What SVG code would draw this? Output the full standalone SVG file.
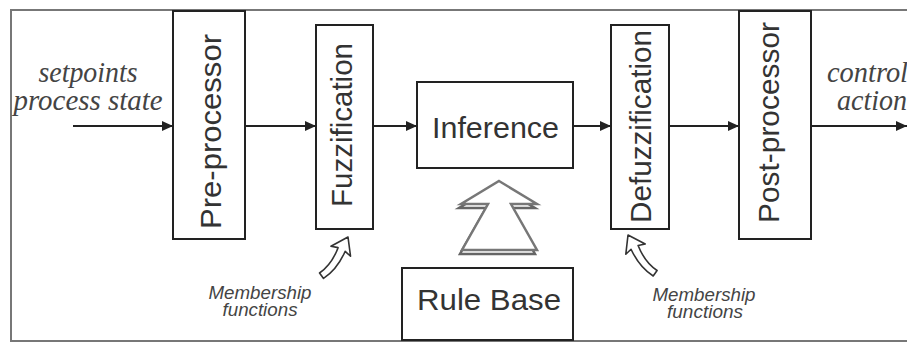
<svg xmlns="http://www.w3.org/2000/svg" width="907" height="343" viewBox="0 0 907 343">
<style>
.box{fill:#fff;stroke:#222;stroke-width:2}
.lbl{font-family:"Liberation Sans",Arial,sans-serif;font-size:30px;fill:#333}
.io{font-family:"Liberation Serif","Times New Roman",serif;font-style:italic;font-size:30px;fill:#444}
.mf{font-family:"Liberation Sans",Arial,sans-serif;font-style:italic;font-size:18px;fill:#444}
.conn{stroke:#222;stroke-width:2;fill:none}
.hollow{fill:#fff;stroke:#333;stroke-width:1.6;stroke-linejoin:round}
</style>
<defs>
<marker id="ah" markerWidth="12" markerHeight="10" refX="11" refY="5" orient="auto" markerUnits="userSpaceOnUse">
<path d="M0,0 L11,5 L0,10 Z" fill="#222"/>
</marker>
<path id="harrow" d="M0,0 L11,16 L4,14 Q5,34 -3,48 L-9,45 Q-2,32 -4,14 L-11,16 Z"/>
</defs>
<rect x="0" y="0" width="907" height="343" fill="#fff"/>
<rect x="11" y="10" width="920" height="331" fill="none" stroke="#777" stroke-width="2"/>

<g id="connectors">
<line class="conn" x1="73" y1="126" x2="173" y2="126" marker-end="url(#ah)"/>
<line class="conn" x1="245" y1="126" x2="316" y2="126" marker-end="url(#ah)"/>
<line class="conn" x1="373" y1="126" x2="417" y2="126" marker-end="url(#ah)"/>
<line class="conn" x1="573" y1="126" x2="611" y2="126" marker-end="url(#ah)"/>
<line class="conn" x1="669" y1="126" x2="739" y2="126" marker-end="url(#ah)"/>
<line class="conn" x1="811" y1="126" x2="907" y2="126" marker-end="url(#ah)"/>
<use href="#harrow" class="hollow" transform="translate(348,237) rotate(27)"/>
<use href="#harrow" class="hollow" transform="translate(628,235) rotate(-28) scale(-1,1)"/>
<g id="rule-arrow">
<polygon points="497,185 535,208 509,208 535,254 460,254 486,208 459,208" fill="none" stroke="#666" stroke-width="2.5" stroke-linejoin="miter"/>
<polygon points="499,181 537,204 511,204 537,250 462,250 488,204 461,204" fill="#fff" stroke="#777" stroke-width="2.5" stroke-linejoin="miter"/>
</g>
</g>

<g id="input-label">
<text class="io" x="88" y="82" text-anchor="middle" textLength="99" lengthAdjust="spacingAndGlyphs">setpoints</text>
<text class="io" x="88" y="110" text-anchor="middle" textLength="149" lengthAdjust="spacingAndGlyphs">process state</text>
</g>

<g id="pre-processor">
<rect class="box" x="173" y="11" width="72" height="228"/>
<text class="lbl" transform="translate(221,229) rotate(-90)" textLength="195" lengthAdjust="spacingAndGlyphs">Pre-processor</text>
</g>

<g id="fuzzification">
<rect class="box" x="316" y="25" width="57" height="204"/>
<text class="lbl" transform="translate(352,207) rotate(-90)" textLength="164" lengthAdjust="spacingAndGlyphs">Fuzzification</text>
</g>

<g id="inference">
<rect class="box" x="417" y="82" width="156" height="86"/>
<text class="lbl" x="432" y="138" textLength="127" lengthAdjust="spacingAndGlyphs">Inference</text>
</g>

<g id="rule-base">
<rect class="box" x="402" y="268" width="171" height="72"/>
<text class="lbl" x="417" y="310" textLength="144" lengthAdjust="spacingAndGlyphs">Rule Base</text>
</g>

<g id="defuzzification">
<rect class="box" x="611" y="25" width="58" height="204"/>
<text class="lbl" transform="translate(651,223) rotate(-90)" textLength="193" lengthAdjust="spacingAndGlyphs">Defuzzification</text>
</g>

<g id="post-processor">
<rect class="box" x="739" y="11" width="72" height="228"/>
<text class="lbl" transform="translate(779,223) rotate(-90)" textLength="201" lengthAdjust="spacingAndGlyphs">Post-processor</text>
</g>

<g id="output-label">
<text class="io" x="827" y="82" textLength="81" lengthAdjust="spacingAndGlyphs">control</text>
<text class="io" x="837" y="110" textLength="70" lengthAdjust="spacingAndGlyphs">action</text>
</g>

<g id="mf-left">
<text class="mf" x="260" y="299" text-anchor="middle" textLength="103" lengthAdjust="spacingAndGlyphs">Membership</text>
<text class="mf" x="260" y="316" text-anchor="middle" textLength="75" lengthAdjust="spacingAndGlyphs">functions</text>
</g>

<g id="mf-right">
<text class="mf" x="704" y="301" text-anchor="middle" textLength="103" lengthAdjust="spacingAndGlyphs">Membership</text>
<text class="mf" x="705" y="318" text-anchor="middle" textLength="76" lengthAdjust="spacingAndGlyphs">functions</text>
</g>
</svg>
